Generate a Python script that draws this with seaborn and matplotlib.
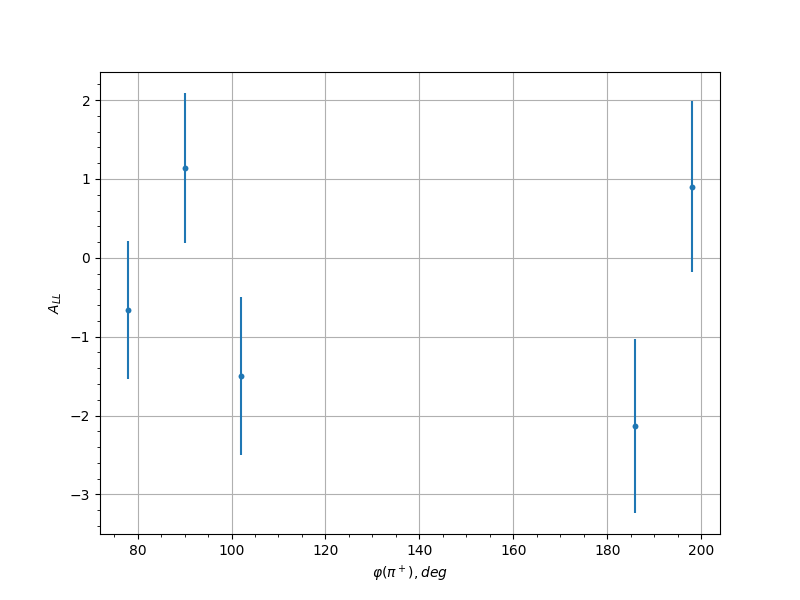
import numpy as np
import pandas as pd
import seaborn as sns
import matplotlib
matplotlib.use('Agg')
import matplotlib.pyplot as plt

# data
phi = [78, 90, 102, 186, 198]
a_ll = [-0.66, 1.14, -1.50, -2.13, 0.90]
a_err = [0.875, 0.95, 1.00, 1.105, 1.085]

df = pd.DataFrame({'phi': phi, 'A_LL': a_ll, 'err': a_err})

# keep plain matplotlib look (black text and spines)
sns.reset_orig()
plt.rcParams['font.family'] = ['DejaVu Sans']

fig, ax = plt.subplots(figsize=(8, 6), dpi=100)
sns.scatterplot(data=df, x='phi', y='A_LL', ax=ax, s=18, color='#1f77b4',
                edgecolor='#1f77b4', linewidth=0, zorder=3)
ax.errorbar(df['phi'], df['A_LL'], yerr=df['err'], fmt='none',
            ecolor='#1f77b4', elinewidth=1.5, zorder=2)

ax.minorticks_on()
ax.grid(True, which='major', color='#b0b0b0', linewidth=0.8)
ax.set_xlabel(r'$\varphi(\pi^+), deg$')
ax.set_ylabel(r'$A_{LL}$')

plt.savefig('out.png', dpi=100)
